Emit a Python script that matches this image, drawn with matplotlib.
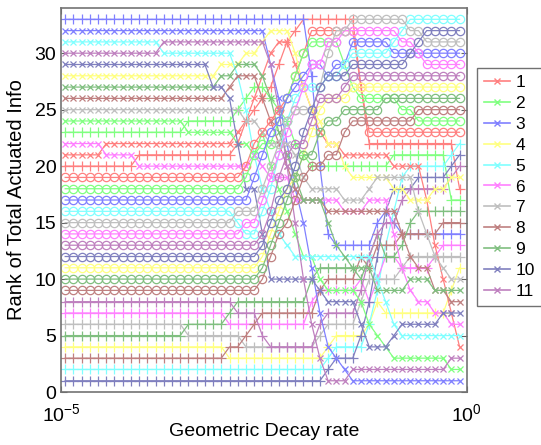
import numpy as np
import matplotlib
matplotlib.use('Agg')
import matplotlib.pyplot as plt
from matplotlib.lines import Line2D

plt.rcParams['font.family'] = ['Liberation Sans', 'DejaVu Sans']
plt.rcParams['mathtext.fontset'] = 'custom'
plt.rcParams['mathtext.rm'] = 'Liberation Sans'
plt.rcParams['mathtext.it'] = 'Liberation Sans'

# decay rates sampled on the x axis (geometric grid)
decay_rate = np.logspace(-4.95, -0.09, 49)

# colour order used for each marker group (pale, as in the original)
colours = [(1, 0, 0), (0, 1, 0), (0, 0, 1), (1, 1, 0), (0, 1, 1), (1, 0, 1),
           (.5, .5, .5), (.5, 0, 0), (0, .5, 0), (0, 0, .5), (.5, 0, .5)]
legend_labels = [str(k) for k in range(1, 12)]

# rank of each actuator along the decay axis, as (rank, repeat) runs
plus_runs = [
    [(20, 9), (21, 12), (22, 1), (24, 1), (25, 1), (26, 1), (27, 1), (29, 1), (31, 1), (32, 1), (33, 7), (27, 1), (22, 11), (18, 1)],
    [(23, 15), (24, 6), (25, 1), (26, 1), (27, 2), (26, 1), (25, 1), (24, 1), (22, 1), (21, 1), (20, 10), (21, 7), (17, 2)],
    [(33, 30), (28, 1), (20, 1), (14, 1), (13, 5), (15, 1), (16, 1), (15, 1), (14, 8)],
    [(4, 20), (3, 12), (4, 1), (5, 4), (6, 1), (8, 1), (7, 8), (9, 1), (11, 1)],
    [(2, 32), (3, 1), (4, 4), (6, 1), (9, 1), (13, 1), (16, 1), (19, 1), (20, 5), (21, 1), (22, 1)],
    [(7, 20), (6, 10), (8, 1), (9, 5), (10, 1), (8, 1), (10, 1), (12, 2), (11, 4), (12, 1), (13, 3)],
    [(6, 15), (5, 7), (4, 9), (5, 1), (6, 4), (8, 1), (10, 4), (11, 1), (12, 7)],
    [(3, 20), (4, 2), (5, 1), (6, 1), (7, 7), (9, 1), (10, 4), (12, 1), (11, 1), (13, 3), (14, 5), (15, 3)],
    [(5, 15), (6, 5), (7, 1), (8, 9), (10, 1), (11, 5), (10, 1), (12, 1), (14, 1), (12, 2), (13, 1), (15, 1), (16, 6)],
    [(1, 32), (2, 1), (3, 3), (5, 1), (8, 1), (12, 1), (16, 1), (18, 3), (19, 4), (20, 1), (21, 1)],
    [(8, 21), (7, 3), (5, 1), (4, 6), (6, 1), (7, 4), (9, 1), (12, 1), (14, 1), (15, 2), (17, 1), (18, 5), (19, 1), (20, 1)],
]
cross_runs = [
    [(21, 5), (22, 16), (23, 1), (24, 1), (26, 1), (28, 1), (30, 1), (31, 2), (29, 1), (27, 1), (25, 1), (23, 1), (22, 2), (21, 6), (20, 4), (17, 1), (13, 1), (10, 1), (7, 1), (4, 1)],
    [(24, 15), (23, 6), (22, 2), (21, 1), (23, 1), (20, 1), (18, 1), (16, 1), (14, 1), (12, 2), (10, 1), (9, 4), (8, 1), (6, 1), (5, 1), (4, 1), (3, 7), (2, 2)],
    [(32, 25), (29, 1), (26, 1), (22, 1), (18, 1), (15, 1), (11, 1), (7, 1), (4, 1), (3, 1), (2, 1), (1, 14)],
    [(28, 19), (29, 3), (30, 2), (31, 1), (32, 3), (30, 1), (27, 1), (25, 1), (24, 1), (22, 2), (20, 1), (19, 5), (18, 2), (17, 3), (18, 2), (19, 2)],
    [(31, 12), (30, 9), (28, 1), (25, 1), (21, 1), (18, 1), (16, 1), (14, 1), (13, 1), (12, 10), (10, 1), (8, 1), (6, 1), (5, 8)],
    [(22, 5), (21, 4), (20, 14), (21, 1), (20, 1), (19, 3), (17, 6), (16, 3), (17, 3), (14, 1), (11, 1), (9, 1), (8, 2), (7, 2), (6, 2)],
    [(25, 22), (24, 2), (23, 1), (22, 3), (21, 1), (19, 1), (18, 4), (17, 3), (18, 1), (19, 5), (16, 1), (14, 1), (12, 1), (11, 1), (10, 2)],
    [(26, 20), (27, 1), (28, 3), (26, 1), (24, 1), (22, 1), (20, 1), (18, 1), (17, 3), (16, 9), (14, 1), (12, 1), (11, 2), (9, 2), (8, 2)],
    [(27, 19), (28, 2), (29, 3), (28, 1), (26, 1), (23, 1), (21, 1), (19, 1), (17, 3), (15, 1), (13, 1), (12, 1), (11, 3), (9, 4), (10, 3), (9, 4)],
    [(29, 18), (27, 2), (26, 1), (22, 1), (18, 2), (14, 1), (10, 6), (9, 1), (8, 4), (6, 1), (4, 3), (5, 1), (6, 5), (7, 3)],
    [(30, 12), (31, 13), (29, 1), (25, 1), (20, 1), (15, 1), (10, 1), (6, 1), (3, 1), (1, 3), (2, 12), (3, 2)],
]
circle_runs = [
    [(19, 22), (20, 1), (22, 1), (23, 1), (24, 1), (25, 1), (26, 1), (28, 1), (30, 1), (32, 6), (27, 1), (23, 12)],
    [(18, 22), (19, 1), (21, 1), (22, 2), (24, 1), (26, 1), (28, 1), (30, 1), (31, 4), (29, 1), (27, 1), (26, 5), (25, 2), (24, 6)],
    [(17, 23), (19, 1), (21, 1), (23, 1), (24, 1), (26, 1), (27, 1), (28, 1), (29, 2), (28, 1), (29, 2), (31, 5), (30, 9)],
    [(11, 24), (12, 1), (14, 1), (16, 1), (18, 1), (19, 1), (21, 1), (23, 1), (25, 1), (26, 3), (27, 14)],
    [(16, 21), (15, 1), (14, 2), (16, 1), (18, 1), (21, 1), (24, 1), (26, 1), (27, 3), (28, 2), (29, 1), (30, 5), (31, 1), (32, 1), (33, 7)],
    [(14, 22), (15, 2), (17, 1), (19, 1), (21, 1), (23, 1), (25, 1), (27, 1), (29, 2), (31, 2), (32, 7), (31, 2), (30, 1), (29, 5)],
    [(15, 21), (16, 3), (18, 1), (20, 1), (22, 1), (24, 1), (25, 3), (27, 1), (30, 1), (32, 2), (33, 7), (32, 2), (31, 5)],
    [(9, 24), (10, 1), (12, 1), (14, 1), (15, 1), (17, 1), (19, 1), (20, 2), (21, 2), (23, 1), (24, 8), (25, 6)],
    [(10, 24), (11, 1), (13, 1), (15, 1), (17, 1), (19, 1), (21, 2), (23, 1), (24, 2), (25, 5), (26, 10)],
    [(12, 24), (13, 1), (15, 1), (17, 1), (18, 1), (20, 1), (23, 1), (25, 1), (27, 1), (28, 3), (29, 7), (30, 1), (31, 1), (32, 5)],
    [(13, 24), (14, 1), (16, 1), (19, 1), (21, 1), (22, 2), (24, 1), (26, 3), (27, 1), (28, 14)],
]


def expand(runs):
    ranks = [r for r, n in runs]
    counts = [n for r, n in runs]
    return np.repeat(ranks, counts)


def pale(c, f=0.5):
    # mix with white so overlapping line+marker don't darken
    return tuple(1 - f * (1 - v) for v in c)


fig = plt.figure(figsize=(5.41, 4.45), dpi=100)
ax = fig.add_axes([0.113, 0.119, 0.750, 0.863])

groups = [(plus_runs, '+', 6.5), (cross_runs, 'x', 4.5), (circle_runs, 'o', 6)]
for runs_list, mk, ms in groups:
    for c, runs in zip(colours, runs_list):
        ax.plot(decay_rate, expand(runs), color=pale(c), lw=0.9,
                marker=mk, ms=ms, mew=0.9, mfc='none')

ax.set_xscale('log')
ax.set_xlim(1e-5, 1)
ax.set_ylim(0, 34)
ax.set_xticks([1e-5, 1])
ax.set_xticklabels([r'$10^{-5}$', r'$10^{0}$'])
ax.xaxis.set_minor_locator(matplotlib.ticker.NullLocator())
ax.set_yticks([0, 5, 10, 15, 20, 25, 30])
ax.tick_params(direction='in', length=4, labelsize=14, right=True, top=True,
               color='0.4')
ax.tick_params(axis='x', pad=8)
for sp in ax.spines.values():
    sp.set_color('0.45')
    sp.set_linewidth(1.2)

ax.set_xlabel('Geometric Decay rate', fontsize=14, va='center')
ax.xaxis.set_label_coords(0.5, -0.104)
ax.set_ylabel('Rank of Total Actuated Info', fontsize=14.5, labelpad=6)

handles = [Line2D([], [], color=pale(c), lw=1.2, marker='x', ms=4.5)
           for c in colours]
leg = fig.legend(handles, legend_labels, loc='upper left',
                 bbox_to_anchor=(477 / 541, 1 - 68 / 445), fontsize=12.5,
                 frameon=True, fancybox=False, handlelength=1.5,
                 handletextpad=0.3, labelspacing=0.33, borderpad=0.4,
                 borderaxespad=0)
leg.get_frame().set_edgecolor('0.3')
leg.get_frame().set_linewidth(1.0)

fig.savefig('out.png', dpi=100)
